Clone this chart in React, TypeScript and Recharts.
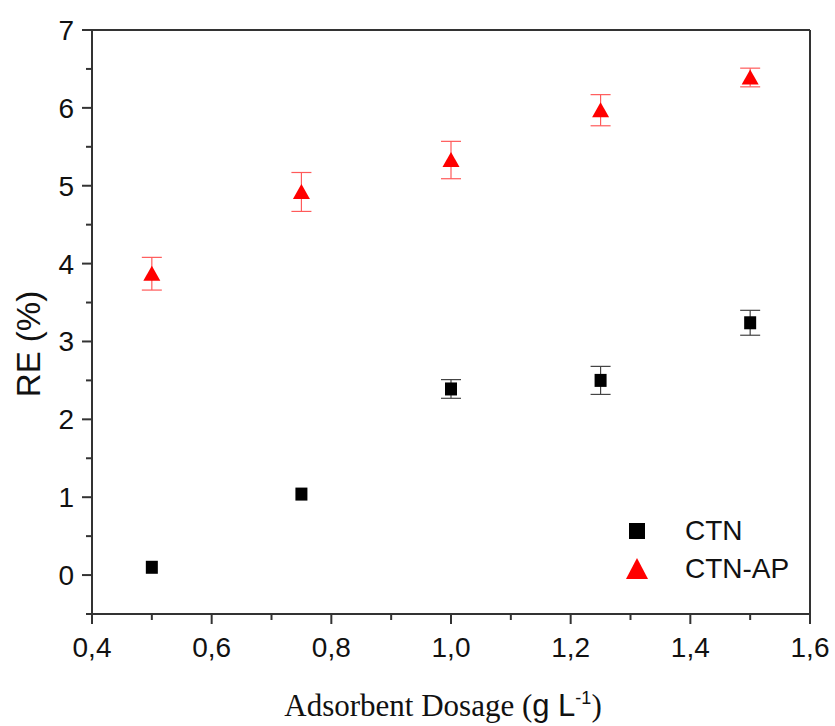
import React from "react";
import {
  ScatterChart,
  Scatter,
  XAxis,
  YAxis,
  ErrorBar,
  ReferenceLine,
} from "recharts";

// adsorbent dosage (g/L) and removal efficiency
const dosage = [0.5, 0.75, 1.0, 1.25, 1.5];
const ctnRE = [0.1, 1.04, 2.39, 2.5, 3.24];
const ctnErr = [0, 0, 0.12, 0.18, 0.16];
const ctnApRE = [3.87, 4.92, 5.33, 5.97, 6.39];
const ctnApErr = [0.21, 0.25, 0.24, 0.2, 0.12];

const xTicks = [0.4, 0.5, 0.6, 0.7, 0.8, 0.9, 1.0, 1.1, 1.2, 1.3, 1.4, 1.5, 1.6];
const yTicks = [-0.5, 0, 0.5, 1, 1.5, 2, 2.5, 3, 3.5, 4, 4.5, 5, 5.5, 6, 6.5, 7];

const ctnData = dosage.map((x, i) => ({ x, y: ctnRE[i], err: ctnErr[i] }));
const ctnApData = dosage.map((x, i) => ({ x, y: ctnApRE[i], err: ctnApErr[i] }));

const AXIS = "#333";
const SANS = "'Liberation Sans', Arial, sans-serif";
const SERIF = "'Liberation Serif', 'Times New Roman', serif";

const YTick = (props: any) => {
  const { x, y, payload } = props;
  const v = payload.value;
  const major = Math.abs(v - Math.round(v)) < 1e-6;
  return (
    <g>
      <line x1={x - (major ? 10 : 6)} x2={x} y1={y} y2={y} stroke={AXIS} strokeWidth={2} />
      {major && (
        <text x={x - 18} y={y + 10} textAnchor="end" fontSize={28} fontFamily={SANS} fill="#111">
          {v}
        </text>
      )}
    </g>
  );
};

const XTick = (props: any) => {
  const { x, y, payload } = props;
  const v = payload.value;
  const major = Math.round(v * 10) % 2 === 0;
  return (
    <g>
      <line x1={x} x2={x} y1={y} y2={y + (major ? 10 : 6)} stroke={AXIS} strokeWidth={2} />
      {major && (
        <text x={x} y={y + 43} textAnchor="middle" fontSize={28} fontFamily={SANS} fill="#111">
          {v.toFixed(1).replace(".", ",")}
        </text>
      )}
    </g>
  );
};

const Square = (props: any) => {
  const { cx, cy } = props;
  return <rect x={cx - 6} y={cy - 6.5} width={12} height={13} fill="#000" />;
};

const Triangle = (props: any) => {
  const { cx, cy } = props;
  return (
    <polygon
      points={`${cx},${cy - 8} ${cx + 8.5},${cy + 7} ${cx - 8.5},${cy + 7}`}
      fill="#ff0000"
    />
  );
};

const Empty = () => <g />;

export default function App() {
  return (
    <div style={{ position: "absolute", left: 0, top: 0, width: 835, height: 726, background: "#fff" }}>
      <ScatterChart width={835} height={726} margin={{ top: 30, right: 25, bottom: 72, left: 0 }}>
        <XAxis
          type="number"
          dataKey="x"
          domain={[0.4, 1.6]}
          ticks={xTicks}
          interval={0}
          tick={<XTick />}
          tickLine={false}
          tickSize={0}
          tickMargin={0}
          height={40}
          axisLine={{ stroke: AXIS, strokeWidth: 2 }}
          allowDataOverflow
          label={{
            content: (p: any) => {
              const vb = p.viewBox || { x: 92, y: 614, width: 718 };
              return (
                <text x={vb.x + vb.width / 2 - 8} y={vb.y + 102} textAnchor="middle" fontSize={31} fontFamily={SERIF} fill="#111">
                  Adsorbent Dosage (
                  <tspan fontFamily={SANS}>g L</tspan>
                  <tspan fontFamily={SANS} fontSize={18} dy={-12}>-1</tspan>
                  <tspan dy={12}>)</tspan>
                </text>
              );
            },
          }}
        />
        <YAxis
          type="number"
          dataKey="y"
          domain={[-0.5, 7]}
          ticks={yTicks}
          interval={0}
          tick={<YTick />}
          tickLine={false}
          tickSize={0}
          tickMargin={0}
          width={92}
          axisLine={{ stroke: AXIS, strokeWidth: 2 }}
          allowDataOverflow
          label={{
            content: (p: any) => {
              const vb = p.viewBox || { x: 0, y: 30, height: 584 };
              const cy = vb.y + vb.height / 2 + 22;
              return (
                <text
                  x={vb.x + 40}
                  y={cy}
                  transform={`rotate(-90 ${vb.x + 40} ${cy})`}
                  textAnchor="middle"
                  fontSize={33}
                  fontFamily={SANS}
                  fill="#111"
                >
                  RE (%)
                </text>
              );
            },
          }}
        />
        <ReferenceLine y={7} stroke={AXIS} strokeWidth={2} />
        <ReferenceLine x={1.6} stroke={AXIS} strokeWidth={2} />
        {/* error bars first, then the markers on top so they hide the stems */}
        <Scatter name="CTN err" data={ctnData} shape={<Empty />} isAnimationActive={false}>
          <ErrorBar dataKey="err" direction="y" width={10} stroke="#444" strokeWidth={1.2} />
        </Scatter>
        <Scatter name="CTN-AP err" data={ctnApData} shape={<Empty />} isAnimationActive={false}>
          <ErrorBar dataKey="err" direction="y" width={10} stroke="#ff5a5a" strokeWidth={1.2} />
        </Scatter>
        <Scatter name="CTN" data={ctnData} shape={<Square />} isAnimationActive={false} />
        <Scatter name="CTN-AP" data={ctnApData} shape={<Triangle />} isAnimationActive={false} />
      </ScatterChart>
      <div style={{ position: "absolute", left: 620, top: 512, fontFamily: SANS, fontSize: 28, color: "#111" }}>
        <div style={{ display: "flex", alignItems: "center", height: 38 }}>
          <svg width={34} height={34}>
            <rect x={9} y={9} width={16} height={16} fill="#000" />
          </svg>
          <span style={{ marginLeft: 31 }}>CTN</span>
        </div>
        <div style={{ display: "flex", alignItems: "center", height: 38 }}>
          <svg width={34} height={34}>
            <polygon points="17,6 28,27 6,27" fill="#ff0000" />
          </svg>
          <span style={{ marginLeft: 31 }}>CTN-AP</span>
        </div>
      </div>
    </div>
  );
}
